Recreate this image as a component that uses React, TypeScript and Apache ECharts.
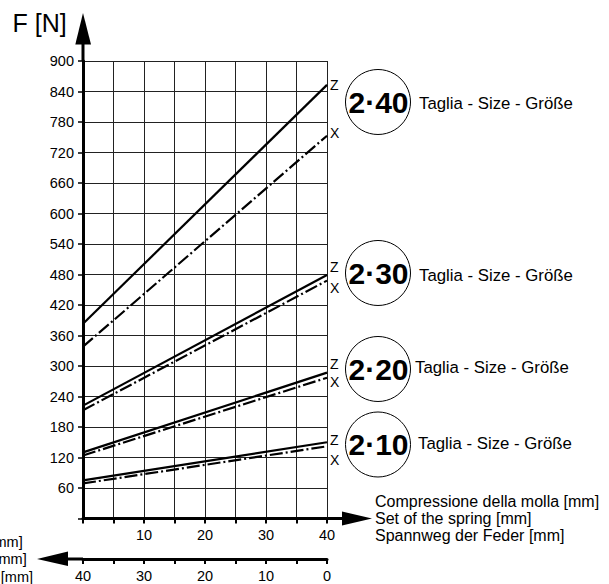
import React, { useEffect, useRef } from "react";
import * as echarts from "echarts";

// ---- data ----
const compression = [0, 40];
const size40Z = [383, 853];
const size40X = [338, 753];
const size30Z = [222, 479];
const size30X = [213, 468];
const size20Z = [130, 287];
const size20X = [124, 277];
const size10Z = [75, 150];
const size10X = [69, 142];
const sizeNames = ["2·40", "2·30", "2·20", "2·10"];
const yTickMax = 900;
const yTickStep = 60;
const xTickMax = 40;
const xTickStep = 5;

const FONT = "Liberation Sans, Arial, Helvetica, sans-serif";

// ---- layout (pixels) ----
const W = 609;
const H = 584;
const GL = 83;
const GR = 327;
const GT = 61;
const GB = 518.5;
const AX2 = 559;

const pairs = (ys: number[]) => compression.map((x, i) => [x, ys[i]]);

export default function App() {
  const ref = useRef<HTMLDivElement>(null);
  useEffect(() => {
    if (!ref.current) return;
    const chart = echarts.init(ref.current, null, { renderer: "svg" });
    const mk = (name: string, ys: number[], dashed: boolean, lab: string, dy: number) => ({
      type: "line",
      name,
      data: pairs(ys),
      showSymbol: false,
      silent: true,
      lineStyle: { color: "#000", width: 2.2, type: dashed ? [13, 3, 2, 3] : "solid" },
      endLabel: {
        show: true,
        formatter: lab,
        distance: 3,
        offset: [0, dy],
        color: "#000",
        fontSize: 14,
        fontFamily: FONT,
      },
    });
    const circleYs = [102, 273, 369, 444.5];
    const tagX = [419, 419, 415, 418];
    const tagY = [103, 275, 367.5, 443.5];
    const graphic: any[] = [];
    // axis extensions & arrows
    graphic.push({ type: "line", shape: { x1: GL, y1: GT, x2: GL, y2: 44 }, style: { stroke: "#000", lineWidth: 3 } });
    graphic.push({ type: "polygon", shape: { points: [[GL, 13], [75.3, 44.5], [91, 44.5]] }, style: { fill: "#000" } });
    graphic.push({ type: "line", shape: { x1: GR, y1: GB, x2: 343, y2: GB }, style: { stroke: "#000", lineWidth: 3 } });
    graphic.push({ type: "polygon", shape: { points: [[342, 511.5], [372, GB], [342, 525.5]] }, style: { fill: "#000" } });
    graphic.push({ type: "line", shape: { x1: GL, y1: AX2, x2: 67, y2: AX2 }, style: { stroke: "#000", lineWidth: 3 } });
    graphic.push({ type: "polygon", shape: { points: [[68, 551.5], [37, AX2], [68, 566]] }, style: { fill: "#000" } });
    // titles
    graphic.push({
      type: "text",
      style: { text: "F [N]", x: 12.5, y: 23, fontSize: 25, fontFamily: FONT, fill: "#000", textVerticalAlign: "middle" },
    });
    const rightLines = ["Compressione della molla [mm]", "Set of the spring [mm]", "Spannweg der Feder [mm]"];
    rightLines.forEach((t, i) => {
      graphic.push({
        type: "text",
        style: { text: t, x: 375, y: 501.5 + i * 17, fontSize: 16, fontFamily: FONT, fill: "#000", textVerticalAlign: "middle" },
      });
    });
    const leftEnds = [22.7, 26.7, 33];
    const leftYs = [541.5, 558.5, 576.5];
    leftEnds.forEach((xe, i) => {
      graphic.push({
        type: "text",
        style: { text: "[mm]", x: xe, y: leftYs[i], fontSize: 14.5, fontFamily: FONT, fill: "#000", textAlign: "right", textVerticalAlign: "middle" },
      });
    });
    sizeNames.forEach((s, i) => {
      graphic.push({ type: "circle", shape: { cx: 378, cy: circleYs[i], r: 32.5 }, style: { fill: "#fff", stroke: "#000", lineWidth: 1 } });
      graphic.push({
        type: "text",
        style: { text: s, x: 378.5, y: circleYs[i], fontSize: 30, fontWeight: "bold", fontFamily: FONT, fill: "#000", textAlign: "center", textVerticalAlign: "middle" },
      });
      graphic.push({
        type: "text",
        style: { text: "Taglia - Size - Größe", x: tagX[i], y: tagY[i], fontSize: 16.8, fontFamily: FONT, fill: "#000", textVerticalAlign: "middle" },
      });
    });

    chart.setOption({
      animation: false,
      backgroundColor: "#fff",
      textStyle: { fontFamily: FONT },
      grid: { left: GL, right: W - GR, top: GT, bottom: H - GB, containLabel: false },
      xAxis: [
        {
          type: "value",
          min: 0,
          max: xTickMax,
          interval: xTickStep,
          axisLine: { show: true, onZero: false, lineStyle: { color: "#000", width: 3 } },
          axisTick: { show: true, length: 5, lineStyle: { color: "#000", width: 2 } },
          axisLabel: {
            color: "#000",
            fontSize: 14.5,
            margin: 9,
            formatter: (v: number) => (v !== 0 && v % 10 === 0 ? String(v) : ""),
          },
          splitLine: { show: true, lineStyle: { color: "#222", width: 1 } },
        },
        {
          type: "value",
          position: "bottom",
          offset: AX2 - GB,
          inverse: true,
          min: 0,
          max: xTickMax,
          interval: xTickStep,
          axisLine: { show: true, onZero: false, lineStyle: { color: "#000", width: 3 } },
          axisTick: { show: true, length: 5, lineStyle: { color: "#000", width: 2 } },
          axisLabel: {
            color: "#000",
            fontSize: 14.5,
            margin: 9,
            showMinLabel: true,
            showMaxLabel: true,
            formatter: (v: number) => (v % 10 === 0 ? String(v) : ""),
          },
          splitLine: { show: false },
        },
      ],
      yAxis: {
        type: "value",
        min: 0,
        max: yTickMax,
        interval: yTickStep,
        axisLine: { show: true, onZero: false, lineStyle: { color: "#000", width: 3 } },
        axisTick: { show: true, length: 5, lineStyle: { color: "#000", width: 1.5 } },
        axisLabel: {
          color: "#000",
          fontSize: 14.5,
          margin: 9,
          formatter: (v: number) => (v === 0 ? "" : String(v)),
        },
        splitLine: { show: true, lineStyle: { color: "#222", width: 1 } },
      },
      series: [
        mk("2·40 Z", size40Z, false, "Z", 0),
        mk("2·40 X", size40X, true, "X", -3),
        mk("2·30 Z", size30Z, false, "Z", -8),
        mk("2·30 X", size30X, true, "X", 7),
        mk("2·20 Z", size20Z, false, "Z", -9),
        mk("2·20 X", size20X, true, "X", 4),
        mk("2·10 Z", size10Z, false, "Z", -2),
        mk("2·10 X", size10X, true, "X", 14),
      ],
      graphic,
    });
    return () => chart.dispose();
  }, []);
  return (
    <div
      ref={ref}
      style={{ position: "fixed", left: 0, top: 0, width: W, height: H, background: "#fff" }}
    />
  );
}
